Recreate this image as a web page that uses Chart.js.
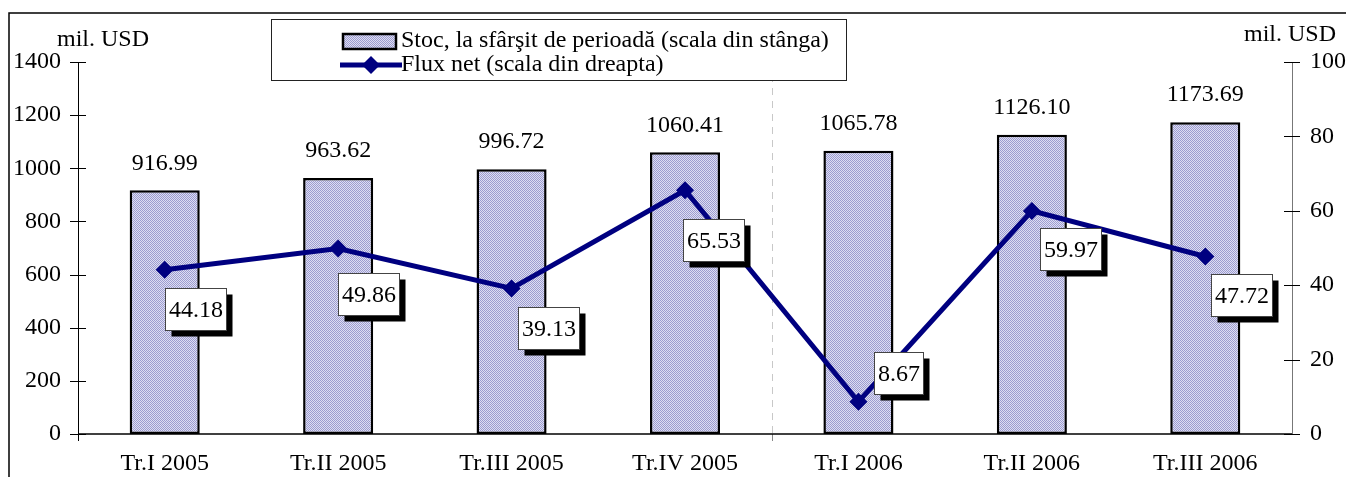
<!DOCTYPE html>
<html><head><meta charset="utf-8">
<script src="https://cdn.jsdelivr.net/npm/chart.js@4.4.1/dist/chart.umd.min.js"></script>
<style>html,body{margin:0;padding:0;background:#fff;overflow:hidden}#wrap{width:1346px;height:477px;position:relative}</style>
</head><body><div id="wrap"><canvas id="c" width="1346" height="477"></canvas></div>
<script>
const categories = ['Tr.I 2005','Tr.II 2005','Tr.III 2005','Tr.IV 2005','Tr.I 2006','Tr.II 2006','Tr.III 2006'];
const stockValues = [916.99, 963.62, 996.72, 1060.41, 1065.78, 1126.10, 1173.69];
const flowValues = [44.18, 49.86, 39.13, 65.53, 8.67, 59.97, 47.72];
const leftTicks = [0, 200, 400, 600, 800, 1000, 1200, 1400];
const rightTicks = [0, 20, 40, 60, 80, 100];
const stockLabel = 'Stoc, la sfârşit de perioadă (scala din stânga)';
const flowLabel = 'Flux net (scala din dreapta)';
const unitLabel = 'mil. USD';

// style: label box placement relative to each point (dx of left edge, dy of top edge)
const flowBoxOffsets = [[0,18],[0,24],[6,19],[-2,29],[16,-50],[8,17],[6,18]];
const FONT = '"Liberation Serif", "Times New Roman", serif';
const FS = 24;
const NAVY = '#000080';

function makePattern(){
  const p = document.createElement('canvas'); p.width = 2; p.height = 2;
  const g = p.getContext('2d');
  g.fillStyle = '#dedef2'; g.fillRect(0,0,2,2);
  g.fillStyle = '#9c9cd0'; g.fillRect(0,0,1,1); g.fillRect(1,1,1,1);
  return g.createPattern(p, 'repeat');
}
const pattern = makePattern();

const deco = {
  id: 'deco',
  beforeDraw(chart){
    const c = chart.ctx;
    c.save();
    c.fillStyle = '#fff'; c.fillRect(0,0,chart.width,chart.height);
    c.strokeStyle = '#000'; c.lineWidth = 1.5;
    c.beginPath(); c.moveTo(9, chart.height); c.lineTo(9, 13); c.lineTo(chart.width, 13); c.stroke();
    c.restore();
  },
  beforeDatasetsDraw(chart){
    const c = chart.ctx, x = chart.scales.x, a = chart.chartArea;
    const bx = Math.round((x.getPixelForValue(3) + x.getPixelForValue(4)) / 2) + 0.5;
    c.save();
    c.strokeStyle = '#c8c8c8'; c.lineWidth = 1; c.setLineDash([7,6]);
    c.beginPath(); c.moveTo(bx, a.top); c.lineTo(bx, a.bottom); c.stroke();
    c.setLineDash([]); c.strokeStyle = '#888';
    c.beginPath(); c.moveTo(bx, a.bottom); c.lineTo(bx, a.bottom + 7); c.stroke();
    c.restore();
  },
  afterDatasetsDraw(chart){
    const c = chart.ctx, a = chart.chartArea;
    const y = chart.scales.y, y1 = chart.scales.y1;
    c.save();
    c.strokeStyle = '#000'; c.lineWidth = 1.5;
    c.beginPath(); c.moveTo(a.left, a.bottom); c.lineTo(a.right, a.bottom); c.stroke();
    c.lineWidth = 1;
    c.beginPath(); c.moveTo(a.left + 0.5, y.getPixelForValue(1400)); c.lineTo(a.left + 0.5, a.bottom + 7); c.stroke();
    leftTicks.forEach(v => { const py = Math.round(y.getPixelForValue(v)) + 0.5; c.beginPath(); c.moveTo(a.left - 8, py); c.lineTo(a.left + 8, py); c.stroke(); });
    c.strokeStyle = '#777';
    c.beginPath(); c.moveTo(a.right + 0.5, y1.getPixelForValue(100)); c.lineTo(a.right + 0.5, a.bottom); c.stroke();
    c.strokeStyle = '#000';
    rightTicks.forEach(v => { const py = Math.round(y1.getPixelForValue(v)) + 0.5; c.beginPath(); c.moveTo(a.right - 8, py); c.lineTo(a.right + 8, py); c.stroke(); });

    c.fillStyle = '#000'; c.font = FS + 'px ' + FONT; c.textAlign = 'center'; c.textBaseline = 'middle';
    chart.getDatasetMeta(0).data.forEach((bar, i) => {
      c.fillText(stockValues[i].toFixed(2), bar.x, bar.y - 27);
    });
    c.font = FS + 'px ' + FONT;
    chart.getDatasetMeta(1).data.forEach((pt, i) => {
      const t = flowValues[i].toFixed(2);
      const w = Math.round(c.measureText(t).width + 7), h = 42;
      const bx = Math.round(pt.x + flowBoxOffsets[i][0]) + 0.5, by = Math.round(pt.y + flowBoxOffsets[i][1]) + 0.5;
      c.fillStyle = '#000'; c.fillRect(bx + 6, by + 6, w, h);
      c.fillStyle = '#fff'; c.fillRect(bx, by, w, h);
      c.strokeStyle = '#444'; c.lineWidth = 1; c.strokeRect(bx, by, w, h);
      c.fillStyle = '#000'; c.textAlign = 'center'; c.textBaseline = 'middle';
      c.fillText(t, bx + w / 2, by + h / 2 + 1);
    });
    c.restore();
  },
  afterDraw(chart){
    const c = chart.ctx;
    c.save();
    c.fillStyle = '#000'; c.font = FS + 'px ' + FONT; c.textBaseline = 'middle';
    c.textAlign = 'left'; c.fillText(unitLabel, 57, 40);
    c.textAlign = 'right'; c.fillText(unitLabel, 1336, 35);
    c.fillStyle = '#fff'; c.fillRect(271.5, 19.5, 575, 61);
    c.strokeStyle = '#222'; c.lineWidth = 1; c.strokeRect(271.5, 19.5, 575, 61);
    c.fillStyle = pattern; c.fillRect(343, 34, 53, 15);
    c.strokeStyle = '#000'; c.lineWidth = 2.5; c.strokeRect(343, 34, 53, 15);
    c.strokeStyle = NAVY; c.lineWidth = 5;
    c.beginPath(); c.moveTo(340, 65); c.lineTo(402, 65); c.stroke();
    c.fillStyle = NAVY; c.beginPath(); c.moveTo(371, 56); c.lineTo(380, 65); c.lineTo(371, 74); c.lineTo(362, 65); c.closePath(); c.fill();
    c.fillStyle = '#000'; c.textAlign = 'left'; c.font = FS + 'px ' + FONT;
    c.fillText(stockLabel, 401, 41);
    c.fillText(flowLabel, 401, 65);
    c.restore();
  }
};

new Chart(document.getElementById('c'), {
  data: {
    labels: categories,
    datasets: [
      { type: 'bar', label: stockLabel, data: stockValues, yAxisID: 'y', order: 1,
        backgroundColor: pattern, borderColor: '#000', borderWidth: 2.5, borderSkipped: false,
        barPercentage: 0.404, categoryPercentage: 1 },
      { type: 'line', label: flowLabel, data: flowValues, yAxisID: 'y1', order: 0,
        borderColor: NAVY, borderWidth: 5, pointStyle: 'rectRot', pointRadius: 9,
        pointBackgroundColor: NAVY, pointBorderColor: NAVY, pointBorderWidth: 0, tension: 0 }
    ]
  },
  options: {
    responsive: false, animation: false, events: [],
    layout: { padding: { top: 62, left: 0, right: 0, bottom: 0 } },
    plugins: { legend: { display: false }, tooltip: { enabled: false } },
    scales: {
      x: { offset: true, grid: { display: false, drawTicks: false }, border: { display: false },
           ticks: { color: '#000', font: { family: FONT, size: FS }, padding: 15, maxRotation: 0, autoSkip: false },
           afterFit: s => { s.height = 43; } },
      y: { position: 'left', min: 0, max: 1400, grid: { display: false, drawTicks: false }, border: { display: false },
           ticks: { stepSize: 200, color: '#000', font: { family: FONT, size: FS }, padding: 17, callback: v => String(v) },
           afterFit: s => { s.width = 78; } },
      y1: { position: 'right', min: 0, max: 100, grid: { display: false, drawTicks: false }, border: { display: false },
           ticks: { stepSize: 20, color: '#000', font: { family: FONT, size: FS }, padding: 18, callback: v => String(v) },
           afterFit: s => { s.width = 54; } }
    }
  },
  plugins: [deco]
});
</script></body></html>
